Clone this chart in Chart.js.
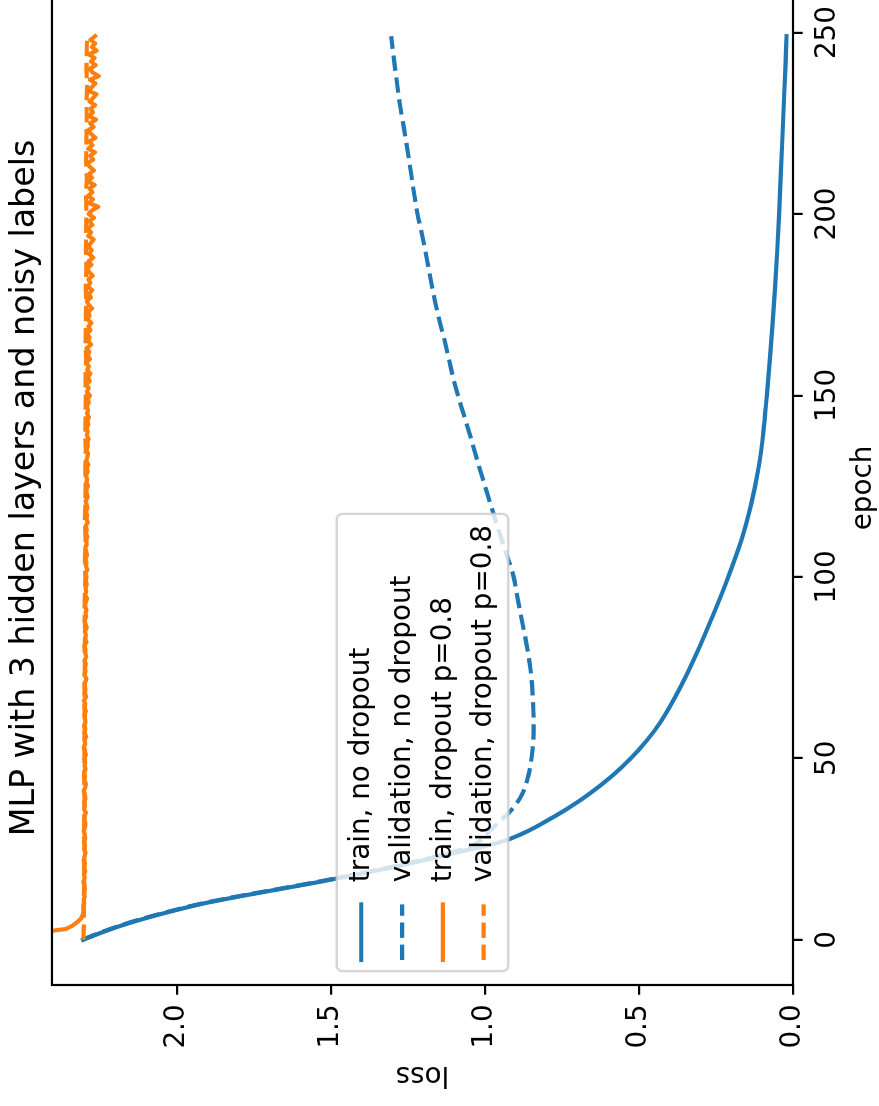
<!DOCTYPE html>
<html>
<head>
<meta charset="utf-8">
<script src="https://cdn.jsdelivr.net/npm/chart.js"></script>
<style>
  html, body { margin: 0; padding: 0; width: 879px; height: 1106px; overflow: hidden; background: #fff; }
  /* the figure is laid out landscape and turned a quarter turn counter-clockwise */
  #wrap { position: absolute; left: 0; top: 0; width: 1236px; height: 885px;
          transform-origin: 0 0; transform: translate(0px, 1106px) rotate(-90deg); }
  canvas { display: block; }
</style>
</head>
<body>
<div id="wrap"><canvas id="c" width="1236" height="885" style="width:1236px;height:885px"></canvas></div>
<script>
// ---- text ----
const chartTitle = 'MLP with 3 hidden layers and noisy labels';
const xTitle = 'epoch';
const yTitle = 'loss';
const seriesLabels = ['train, no dropout', 'validation, no dropout', 'train, dropout p=0.8', 'validation, dropout p=0.8'];

// ---- axes ----
const epochTicks = [0, 50, 100, 150, 200, 250];
const lossTicks = [0, 0.5, 1.0, 1.5, 2.0];
const epochMin = -12.45, epochMax = 261.45;
const lossMin = 0, lossMax = 2.406;

// ---- train, no dropout ----
const trainEpochs = [0, 2, 4, 6, 8, 10, 12, 14, 16, 18, 20, 22, 24, 25, 26, 27, 28, 30, 33, 36, 40, 45, 50, 55, 60, 70, 80, 90, 100, 110, 120, 130, 140, 150, 160, 170, 180, 190, 200, 210, 220, 230, 240, 249];
const trainLoss = [2.305, 2.245, 2.178, 2.100, 2.012, 1.915, 1.795, 1.665, 1.535, 1.415, 1.300, 1.195, 1.095, 1.045, 0.990, 0.948, 0.913, 0.860, 0.795, 0.735, 0.665, 0.590, 0.527, 0.474, 0.430, 0.363, 0.307, 0.257, 0.210, 0.168, 0.136, 0.112, 0.096, 0.085, 0.075, 0.066, 0.058, 0.051, 0.045, 0.040, 0.035, 0.030, 0.025, 0.021];

// ---- validation, no dropout ----
const valEpochs = [0, 2, 4, 6, 8, 10, 12, 14, 16, 18, 20, 22, 24, 26, 28, 30, 32, 34, 36, 40, 45, 50, 55, 60, 65, 70, 75, 80, 85, 90, 95, 100, 105, 110, 115, 120, 125, 130, 135, 140, 145, 150, 155, 160, 165, 170, 175, 180, 185, 190, 195, 200, 205, 210, 215, 220, 225, 230, 235, 240, 245, 249];
const valLoss = [2.308, 2.249, 2.182, 2.105, 2.017, 1.920, 1.801, 1.671, 1.542, 1.423, 1.309, 1.205, 1.112, 1.040, 1.005, 0.985, 0.960, 0.935, 0.912, 0.880, 0.860, 0.849, 0.843, 0.842, 0.844, 0.847, 0.853, 0.862, 0.873, 0.885, 0.896, 0.907, 0.925, 0.945, 0.964, 0.982, 1.000, 1.018, 1.035, 1.052, 1.070, 1.088, 1.104, 1.117, 1.131, 1.146, 1.160, 1.172, 1.183, 1.194, 1.206, 1.219, 1.229, 1.238, 1.247, 1.256, 1.266, 1.276, 1.284, 1.292, 1.299, 1.305];

// ---- train, dropout p=0.8 (one value per epoch, epochs 0..249) ----
const trainDropLoss = [
  2.600, 2.520, 2.450, 2.360, 2.338, 2.322, 2.310, 2.306, 2.303, 2.304,
  2.301, 2.303, 2.300, 2.302, 2.299, 2.301, 2.304, 2.300, 2.302, 2.298,
  2.301, 2.299, 2.303, 2.300, 2.297, 2.301, 2.299, 2.302, 2.298, 2.300,
  2.303, 2.299, 2.297, 2.301, 2.300, 2.296, 2.302, 2.299, 2.301, 2.297,
  2.300, 2.303, 2.298, 2.296, 2.301, 2.299, 2.302, 2.297, 2.300, 2.298,
  2.301, 2.296, 2.299, 2.303, 2.298, 2.300, 2.295, 2.301, 2.298, 2.302,
  2.297, 2.299, 2.301, 2.296, 2.300, 2.298, 2.302, 2.295, 2.299, 2.297,
  2.300, 2.298, 2.294, 2.301, 2.297, 2.299, 2.296, 2.300, 2.295, 2.298,
  2.297, 2.301, 2.294, 2.298, 2.296, 2.299, 2.293, 2.297, 2.300, 2.295,
  2.297, 2.294, 2.299, 2.296, 2.292, 2.298, 2.295, 2.297, 2.293, 2.296,
  2.294, 2.298, 2.291, 2.296, 2.294, 2.297, 2.292, 2.295, 2.298, 2.293,
  2.295, 2.291, 2.296, 2.293, 2.297, 2.290, 2.294, 2.292, 2.296, 2.291,
  2.294, 2.297, 2.290, 2.293, 2.295, 2.289, 2.294, 2.292, 2.296, 2.290,
  2.293, 2.288, 2.295, 2.291, 2.289, 2.294, 2.290, 2.292, 2.287, 2.293,
  2.290, 2.294, 2.288, 2.291, 2.286, 2.292, 2.289, 2.293, 2.287, 2.290,
  2.283, 2.293, 2.287, 2.294, 2.284, 2.290, 2.281, 2.292, 2.286, 2.295,
  2.283, 2.290, 2.285, 2.294, 2.279, 2.289, 2.284, 2.293, 2.281, 2.288,
  2.278, 2.291, 2.284, 2.289, 2.276, 2.287, 2.293, 2.280, 2.286, 2.275,
  2.290, 2.281, 2.288, 2.274, 2.285, 2.292, 2.278, 2.287, 2.272, 2.286,
  2.277, 2.289, 2.280, 2.271, 2.288, 2.279, 2.291, 2.275, 2.285, 2.270,
  2.287, 2.276, 2.256, 2.286, 2.273, 2.289, 2.275, 2.284, 2.268, 2.290,
  2.276, 2.286, 2.270, 2.283, 2.291, 2.272, 2.282, 2.267, 2.288, 2.275,
  2.285, 2.265, 2.278, 2.290, 2.271, 2.282, 2.263, 2.287, 2.273, 2.281,
  2.266, 2.284, 2.272, 2.262, 2.289, 2.276, 2.265, 2.283, 2.254, 2.274,
  2.284, 2.264, 2.279, 2.268, 2.286, 2.261, 2.276, 2.266, 2.281, 2.266
];

// ---- validation, dropout p=0.8 ----
const valDropEpochs = [0, 5, 10, 15, 20, 25, 30, 35, 40, 45, 50, 55, 60, 65, 70, 75, 80, 85, 90, 95, 100, 105, 110, 115, 120, 125, 130, 135, 140, 145, 150, 155, 160, 165, 170, 175, 180, 185, 190, 195, 200, 205, 210, 215, 220, 225, 230, 235, 240, 245, 249];
const valDropLoss = [2.304, 2.302, 2.303, 2.301, 2.302, 2.300, 2.302, 2.301, 2.300, 2.302, 2.300, 2.301, 2.299, 2.301, 2.300, 2.299, 2.300, 2.298, 2.300, 2.299, 2.298, 2.299, 2.297, 2.299, 2.298, 2.297, 2.298, 2.296, 2.298, 2.297, 2.296, 2.297, 2.295, 2.297, 2.296, 2.295, 2.296, 2.294, 2.296, 2.295, 2.294, 2.295, 2.293, 2.295, 2.294, 2.293, 2.294, 2.292, 2.294, 2.293, 2.292];

// ---- styling ----
const FONT = 'DejaVu Sans';
const BLUE = '#1f77b4';
const ORANGE = '#ff7f0e';
const LINE_W = 4.17;
const DASH = [15.4, 6.7];
const TICK_FS = 27.8;

Chart.defaults.font.family = FONT;
Chart.defaults.color = '#000';

function pairs(xs, ys) { return xs.map((x, i) => ({ x: x, y: ys[i] })); }

const common = { pointRadius: 0, pointHoverRadius: 0, fill: false, clip: 0, borderWidth: LINE_W, borderJoinStyle: 'round' };

const datasets = [
  Object.assign({ label: seriesLabels[0], data: pairs(trainEpochs, trainLoss), borderColor: BLUE,
    cubicInterpolationMode: 'monotone', borderCapStyle: 'square', order: 4 }, common),
  Object.assign({ label: seriesLabels[1], data: pairs(valEpochs, valLoss), borderColor: BLUE,
    borderDash: DASH, cubicInterpolationMode: 'monotone', borderCapStyle: 'butt', order: 3 }, common),
  Object.assign({ label: seriesLabels[2], data: trainDropLoss.map((y, epoch) => ({ x: epoch, y: y })), borderColor: ORANGE,
    tension: 0, borderCapStyle: 'square', order: 2 }, common),
  Object.assign({ label: seriesLabels[3], data: pairs(valDropEpochs, valDropLoss), borderColor: ORANGE,
    borderDash: DASH, tension: 0, borderCapStyle: 'butt', order: 1 }, common)
];

// axes box drawn on all four sides
const framePlugin = {
  id: 'frame',
  afterDatasetsDraw(chart) {
    const { ctx, chartArea: a } = chart;
    ctx.save();
    ctx.strokeStyle = '#000';
    ctx.lineWidth = 2.2;
    ctx.lineJoin = 'miter';
    ctx.strokeRect(a.left, a.top, a.right - a.left, a.bottom - a.top);
    ctx.restore();
  }
};

// legend box placed at the centre-left of the plot area
const legendPlugin = {
  id: 'boxLegend',
  afterDraw(chart) {
    const { ctx, chartArea: a } = chart;
    const fs = TICK_FS;
    const pad = 0.4 * fs, handleLen = 2 * fs, handleGap = 0.8 * fs;
    const rowH = 26.9, rowSp = 0.5 * fs, axPad = 0.5 * fs;
    const items = chart.data.datasets;
    ctx.save();
    ctx.font = fs + 'px "' + FONT + '"';
    const tw = Math.max.apply(null, items.map(d => ctx.measureText(d.label).width));
    const w = pad + handleLen + handleGap + tw + pad;
    const h = 2 * pad + items.length * rowH + (items.length - 1) * rowSp;
    const x0 = a.left + axPad;
    const y0 = (a.top + a.bottom) / 2 - h / 2;
    const r = 0.2 * fs;
    ctx.beginPath();
    ctx.moveTo(x0 + r, y0);
    ctx.lineTo(x0 + w - r, y0);
    ctx.arcTo(x0 + w, y0, x0 + w, y0 + r, r);
    ctx.lineTo(x0 + w, y0 + h - r);
    ctx.arcTo(x0 + w, y0 + h, x0 + w - r, y0 + h, r);
    ctx.lineTo(x0 + r, y0 + h);
    ctx.arcTo(x0, y0 + h, x0, y0 + h - r, r);
    ctx.lineTo(x0, y0 + r);
    ctx.arcTo(x0, y0, x0 + r, y0, r);
    ctx.closePath();
    ctx.fillStyle = 'rgba(255,255,255,0.8)';
    ctx.fill();
    ctx.strokeStyle = 'rgba(204,204,204,0.8)';
    ctx.lineWidth = 2.4;
    ctx.stroke();
    items.forEach((d, i) => {
      const cy = y0 + pad + i * (rowH + rowSp) + rowH / 2;
      ctx.beginPath();
      ctx.setLineDash(d.borderDash || []);
      ctx.lineCap = d.borderDash ? 'butt' : 'square';
      ctx.strokeStyle = d.borderColor;
      ctx.lineWidth = LINE_W;
      ctx.moveTo(x0 + pad, cy);
      ctx.lineTo(x0 + pad + handleLen, cy);
      ctx.stroke();
      ctx.setLineDash([]);
      ctx.fillStyle = '#000';
      ctx.textAlign = 'left';
      ctx.textBaseline = 'alphabetic';
      ctx.fillText(d.label, x0 + pad + handleLen + handleGap, cy + 7.65);
    });
    ctx.restore();
  }
};

const tickGrid = { display: true, drawOnChartArea: false, drawTicks: true, tickLength: 9.7, tickWidth: 2.2, lineWidth: 2.2, tickColor: '#000', color: '#000' };

new Chart(document.getElementById('c'), {
  type: 'line',
  data: { datasets: datasets },
  plugins: [framePlugin, legendPlugin],
  options: {
    responsive: false,
    animation: false,
    devicePixelRatio: 1,
    layout: { padding: { top: 0, left: 0, right: 121, bottom: 0 } },
    plugins: {
      legend: { display: false },
      tooltip: { enabled: false },
      title: {
        display: true, text: chartTitle, fullSize: false, color: '#000',
        font: { family: FONT, size: 33.3, weight: 'normal' },
        padding: { top: 5, bottom: 7 }
      }
    },
    scales: {
      x: {
        type: 'linear', position: 'bottom', min: epochMin, max: epochMax,
        afterBuildTicks: s => { s.ticks = epochTicks.map(v => ({ value: v })); },
        afterFit: s => { s.height = 92; },
        ticks: { autoSkip: false, maxRotation: 0, padding: 8, color: '#000', font: { size: TICK_FS },
                 callback: v => String(v) },
        grid: tickGrid,
        border: { display: false },
        title: { display: true, text: xTitle, color: '#000', font: { size: TICK_FS }, padding: { top: 0, bottom: 5 } }
      },
      y: {
        type: 'linear', position: 'left', min: lossMin, max: lossMax,
        afterBuildTicks: s => { s.ticks = lossTicks.map(v => ({ value: v })); },
        afterFit: s => { s.width = 121; },
        ticks: { autoSkip: false, padding: 9.7, color: '#000', font: { size: TICK_FS },
                 callback: v => Number(v).toFixed(1) },
        grid: tickGrid,
        border: { display: false },
        title: { display: true, text: yTitle, color: '#000', font: { size: TICK_FS }, padding: { top: 15, bottom: 0 } }
      }
    }
  }
});
</script>
</body>
</html>
